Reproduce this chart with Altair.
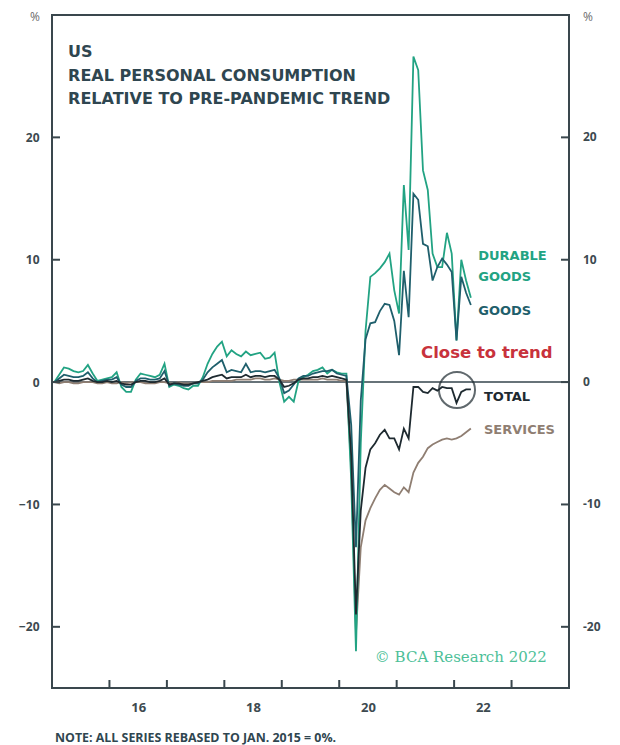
import altair as alt
import pandas as pd

# ---------------- data (monthly, Jan 2015 .. Apr 2022) ----------------
durable = [
    0.0, 0.6, 1.2, 1.1, 0.9, 0.8, 0.9, 1.4, 0.7, 0.1, 0.2, 0.3,
    0.4, 0.8, -0.4, -0.8, -0.8, 0.2, 0.7, 0.6, 0.5, 0.4, 0.6, 1.5,
    -0.4, -0.2, -0.3, -0.5, -0.6, -0.3, -0.3, 0.4, 1.5, 2.3, 2.9, 3.3,
    2.1, 2.6, 2.3, 2.1, 2.5, 2.2, 2.3, 2.4, 1.9, 2.0, 2.4, 0.0,
    -1.6, -1.2, -1.6, 0.1, 0.4, 0.6, 0.9, 1.0, 1.2, 0.7, 1.0, 0.8,
    0.7, 0.7, -8.0, -22.0, -5.0, 4.2, 8.6, 8.9, 9.3, 9.8, 10.5, 7.5,
    5.6, 16.1, 10.8, 26.6, 25.5, 17.3, 15.7, 10.5, 9.4, 9.4, 12.2, 10.5,
    3.4, 10.0, 8.3, 6.9,
]
goods = [
    0.0, 0.3, 0.6, 0.5, 0.4, 0.4, 0.5, 0.8, 0.3, 0.0, 0.1, 0.2,
    0.2, 0.4, -0.2, -0.4, -0.4, 0.1, 0.3, 0.3, 0.2, 0.2, 0.3, 0.9,
    -0.3, -0.1, -0.2, -0.3, -0.3, -0.1, -0.1, 0.2, 0.8, 1.2, 1.5, 1.8,
    0.8, 1.0, 0.9, 0.8, 1.5, 0.8, 0.9, 0.9, 0.8, 0.9, 1.0, 0.3,
    -0.9, -0.7, -0.2, 0.3, 0.5, 0.5, 0.7, 0.8, 0.9, 0.9, 1.0, 0.7,
    0.6, 0.5, -3.5, -13.5, -1.5, 3.5, 4.8, 4.9, 5.8, 6.4, 6.3, 5.0,
    2.2, 9.1, 5.3, 15.4, 14.9, 11.3, 11.1, 8.3, 9.4, 10.1, 9.6, 9.0,
    3.4, 8.6, 7.3, 6.3,
]
total = [
    0.0, 0.1, 0.2, 0.2, 0.1, 0.1, 0.2, 0.3, 0.1, 0.0, 0.0, 0.1,
    0.0, 0.1, -0.1, -0.2, -0.2, 0.0, 0.1, 0.1, 0.0, 0.0, 0.1, 0.3,
    -0.2, -0.1, -0.1, -0.2, -0.2, -0.1, 0.0, 0.1, 0.2, 0.4, 0.5, 0.6,
    0.3, 0.4, 0.4, 0.4, 0.6, 0.4, 0.5, 0.5, 0.4, 0.5, 0.5, 0.2,
    -0.4, -0.3, -0.1, 0.2, 0.3, 0.3, 0.4, 0.4, 0.5, 0.4, 0.5, 0.4,
    0.3, 0.2, -6.0, -19.0, -10.5, -7.0, -5.5, -5.0, -4.3, -3.9, -4.6, -4.6,
    -5.5, -3.8, -4.6, -0.4, -0.4, -0.8, -0.9, -0.5, -0.7, -0.4, -0.5, -0.5,
    -1.7, -0.8, -0.6, -0.6,
]
services = [
    0.0, -0.1, 0.0, 0.0, -0.1, -0.1, 0.0, 0.0, 0.0, -0.1, -0.1, 0.0,
    -0.1, -0.1, 0.0, -0.1, 0.0, 0.0, 0.0, -0.1, -0.1, -0.1, 0.0, 0.0,
    -0.1, -0.1, 0.0, -0.1, -0.1, -0.1, 0.0, 0.0, 0.0, 0.1, 0.1, 0.1,
    0.1, 0.1, 0.2, 0.2, 0.2, 0.2, 0.3, 0.3, 0.2, 0.2, 0.3, 0.2,
    0.1, 0.1, 0.2, 0.2, 0.2, 0.2, 0.2, 0.2, 0.3, 0.2, 0.2, 0.2,
    0.1, 0.1, -7.0, -20.5, -13.5, -11.3, -10.3, -9.5, -8.8, -8.4, -8.7, -9.0,
    -9.2, -8.6, -9.0, -7.4, -6.6, -6.1, -5.4, -5.1, -4.9, -4.7, -4.6, -4.7,
    -4.6, -4.4, -4.1, -3.8,
]

series_names = ["SERVICES", "DURABLE GOODS", "GOODS", "TOTAL"]
series_colors = ["#8f7e72", "#22a383", "#1f5f6c", "#1e2a30"]
label_colors = ["#958579", "#36b48d", "#3d5f6e", "#1e2a30"]

y_ticks = [-20, -10, 0, 10, 20]
x_year_ticks = [2016, 2017, 2018, 2019, 2020, 2021, 2022, 2023]
x_label_pos = [2016.5, 2018.5, 2020.5, 2022.5]

title_lines = ["US", "REAL PERSONAL CONSUMPTION", "RELATIVE TO PRE-PANDEMIC TREND"]
title_y = [27.0, 25.0, 23.1]

labels_text = ["DURABLE", "GOODS", "GOODS", "TOTAL", "SERVICES"]
labels_x = [2022.42, 2022.42, 2022.42, 2022.52, 2022.52]
labels_y = [10.3, 8.6, 5.8, -1.2, -3.9]
labels_series = ["DURABLE GOODS", "DURABLE GOODS", "GOODS", "TOTAL", "SERVICES"]

# ---------------- build table ----------------
rows = []
for name, vals in [("DURABLE GOODS", durable), ("GOODS", goods),
                   ("TOTAL", total), ("SERVICES", services)]:
    for i, v in enumerate(vals):
        rows.append({"x": 2015 + (i + 0.5) / 12.0, "v": v, "series": name})
df = pd.DataFrame(rows)

W, H = 517, 673
FONT = "Open Sans"
BOLDW = "DejaVu Sans"
AXC = "#3a474d"

xscale = alt.Scale(domain=[2015, 2024], nice=False, zero=False)
yscale = alt.Scale(domain=[-25, 30], nice=False, zero=False)
cscale = alt.Scale(domain=series_names, range=series_colors)

X = alt.X("x:Q", scale=xscale,
          axis=alt.Axis(values=x_label_pos,
                        labelExpr="substring(toString(floor(datum.value)), 2)",
                        ticks=False, domain=False, grid=False, title=None,
                        labelFont=FONT, labelFontSize=13, labelFontWeight="bold",
                        labelColor="#3d4a50", labelPadding=13))
Y = alt.Y("v:Q", scale=yscale,
          axis=alt.Axis(values=y_ticks, ticks=False, domain=False, grid=False,
                        title=None, labelFont=FONT, labelFontSize=12,
                        labelFontWeight="bold", labelColor="#3d4a50",
                        labelPadding=13))

zero = alt.Chart(pd.DataFrame({"v": [0]})).mark_rule(
    color="#34444c", strokeWidth=1.5).encode(y=alt.Y("v:Q", scale=yscale))

lines = []
for name in series_names:
    lines.append(
        alt.Chart(df).transform_filter(alt.datum.series == name)
        .mark_line(strokeWidth=1.8, clip=True)
        .encode(x=X, y=Y,
                color=alt.Color("series:N", scale=cscale, legend=None))
    )

circle = alt.Chart(pd.DataFrame({"x": [2022.05], "v": [-0.65]})).mark_point(
    shape="circle", size=1300, filled=False, stroke="#1e2a30", strokeWidth=2
).encode(x=alt.X("x:Q", scale=xscale), y=alt.Y("v:Q", scale=yscale))

tdf = pd.DataFrame({"x": [2015.28] * 3, "v": title_y, "t": title_lines})
title = alt.Chart(tdf).mark_text(
    align="left", baseline="middle", font=BOLDW, fontSize=16,
    fontWeight="bold", color="#2f4650"
).encode(x=alt.X("x:Q", scale=xscale), y=alt.Y("v:Q", scale=yscale), text="t:N")

ldf = pd.DataFrame({"x": labels_x, "v": labels_y, "t": labels_text,
                    "series": labels_series})
labels = alt.Chart(ldf).mark_text(
    align="left", baseline="middle", font=BOLDW, fontSize=13, fontWeight="bold"
).encode(x=alt.X("x:Q", scale=xscale), y=alt.Y("v:Q", scale=yscale),
         text="t:N",
         color=alt.Color("series:N",
                         scale=alt.Scale(domain=series_names, range=label_colors),
                         legend=None))

close = alt.Chart(pd.DataFrame({"x": [2022.57], "v": [2.4], "t": ["Close to trend"]})).mark_text(
    align="center", baseline="middle", font=BOLDW, fontSize=16.5,
    fontWeight="bold", color="#c8323c"
).encode(x=alt.X("x:Q", scale=xscale), y=alt.Y("v:Q", scale=yscale), text="t:N")

copy = alt.Chart(pd.DataFrame({"x": [2020.62], "v": [-22.5], "t": ["© BCA Research 2022"]})).mark_text(
    align="left", baseline="middle", font="DejaVu Serif", fontSize=15,
    color="#4dbf98"
).encode(x=alt.X("x:Q", scale=xscale), y=alt.Y("v:Q", scale=yscale), text="t:N")

ytdf = pd.DataFrame({"v": y_ticks, "lab": [str(t) for t in y_ticks]})
left_ticks = alt.Chart(ytdf).mark_rule(color=AXC, strokeWidth=2).encode(
    y=alt.Y("v:Q", scale=yscale), x=alt.value(0), x2=alt.value(8))
right_ticks = alt.Chart(ytdf).mark_rule(color=AXC, strokeWidth=2).encode(
    y=alt.Y("v:Q", scale=yscale), x=alt.value(W - 8), x2=alt.value(W))
right_labels = alt.Chart(ytdf).mark_text(
    align="left", baseline="middle", font=FONT, fontSize=12,
    fontWeight="bold", color="#3d4a50"
).encode(y=alt.Y("v:Q", scale=yscale), x=alt.value(W + 14), text="lab:N")

bottom_ticks = alt.Chart(pd.DataFrame({"x": x_year_ticks})).mark_rule(
    color=AXC, strokeWidth=2).encode(
    x=alt.X("x:Q", scale=xscale), y=alt.value(H - 8), y2=alt.value(H))

pct = alt.Chart(pd.DataFrame({"px": [-17, W + 19], "t": ["%", "%"]})).mark_text(
    align="center", baseline="middle", font=FONT, fontSize=12, color="#6b6b6b"
).encode(x=alt.X("px:Q", scale=None), y=alt.value(2), text="t:N")

note = alt.Chart(pd.DataFrame({"t": ["NOTE: ALL SERIES REBASED TO JAN. 2015 = 0%."]})).mark_text(
    align="left", baseline="middle", font=FONT, fontSize=12.4,
    fontWeight="bold", color="#2f4650"
).encode(x=alt.value(3), y=alt.value(723), text="t:N")

chart = alt.layer(
    zero, *lines, circle, title, labels, close, copy,
    left_ticks, right_ticks, right_labels, bottom_ticks, pct, note
).properties(
    width=W, height=H,
    autosize=alt.AutoSizeParams(type="none"),
    padding={"left": 44, "top": 7, "right": 43, "bottom": 57},
).configure(
    background="white",
    view=alt.ViewConfig(stroke=AXC, strokeWidth=2),
)

chart.save("out.html", embed_options={"renderer": "svg", "actions": False})
